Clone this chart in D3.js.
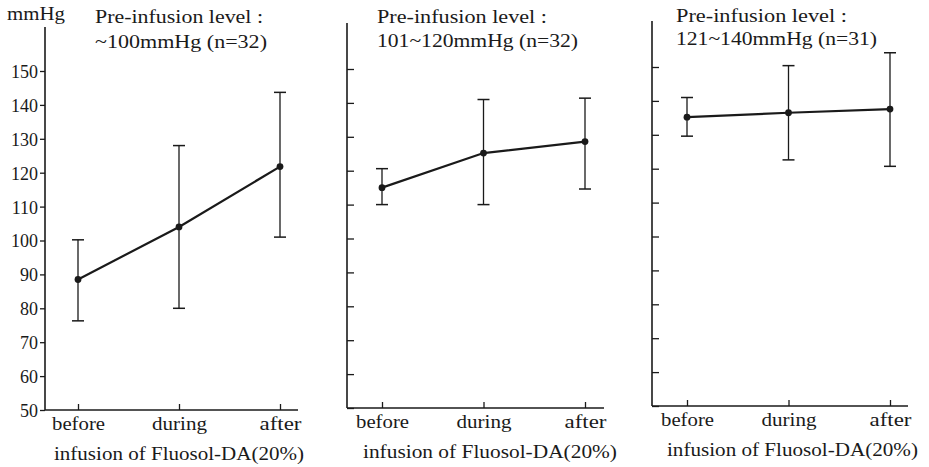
<!DOCTYPE html>
<html><head><meta charset="utf-8">
<script src="https://cdn.jsdelivr.net/npm/d3@7"></script>
<style>
html,body{margin:0;padding:0;background:#fff;}
</style></head>
<body><svg id="c" width="929" height="467"></svg>
<script>
const phases = ["before", "during", "after"];
const yTicks = [50, 60, 70, 80, 90, 100, 110, 120, 130, 140, 150];
const titleLine1 = ["Pre-infusion level :", "Pre-infusion level :", "Pre-infusion level :"];
const titleLine2 = ["~100mmHg (n=32)", "101~120mmHg (n=32)", "121~140mmHg (n=31)"];
const xTitle = "infusion of Fluosol-DA(20%)";
const yUnit = "mmHg";
// means and error bar ends (mmHg), per panel
const mean1 = [88.5, 104, 121.8], upper1 = [100.2, 128, 143.7], lower1 = [76.3, 80, 101];
const mean2 = [115, 125.2, 128.6], upper2 = [120.6, 141, 141.4], lower2 = [110, 110, 114.6];
const mean3 = [135.2, 136.5, 137.6], upper3 = [141, 150.4, 154.2], lower3 = [129.6, 122.6, 120.7];

const tickLabelWidth = {before: 53, during: 55, after: 42};
const FONT = "'Liberation Serif', 'Times New Roman', serif";
const panels = [
  {mean: mean1, upper: upper1, lower: lower1, ax: 45, axEnd: 298, y50: 410, y150: 71, top: 27, x0: 78, x1: 280,
   t1: [95, 23, 168], t2: [95, 48, 172], xt: [54, 460, 250], labels: true},
  {mean: mean2, upper: upper2, lower: lower2, ax: 347, axEnd: 604, y50: 408, y150: 69, top: 23, x0: 382, x1: 585,
   t1: [377, 23, 170], t2: [377, 47, 201], xt: [363, 458, 254], labels: false},
  {mean: mean3, upper: upper3, lower: lower3, ax: 652, axEnd: 908, y50: 406, y150: 67, top: 21, x0: 687, x1: 890,
   t1: [676, 22, 171], t2: [676, 45, 201], xt: [667, 456, 251], labels: false}
];
const ink = "#1a1a1a";
const svg = d3.select("#c");

svg.append("text").attr("x", 7).attr("y", 20).attr("font-size", 18)
  .attr("textLength", 58).attr("lengthAdjust", "spacingAndGlyphs").text(yUnit);

panels.forEach((p, i) => {
  const g = svg.append("g");
  const y = d3.scaleLinear().domain([50, 150]).range([p.y50, p.y150]);
  const x = d3.scalePoint().domain(phases).range([p.x0, p.x1]);

  // y axis
  const yAxis = (p.labels ? d3.axisLeft(y).tickSize(5).tickPadding(2) : d3.axisRight(y).tickSize(7).tickFormat(""))
    .tickValues(yTicks);
  const ya = g.append("g").attr("transform", `translate(${p.ax},0)`).call(yAxis);
  ya.select(".domain").remove();
  ya.selectAll("line").attr("stroke", ink).attr("stroke-width", 1.3);
  ya.selectAll("text").attr("font-size", 18).attr("dy", "0.36em");

  // x axis
  const xa = g.append("g").attr("transform", `translate(0,${p.y50})`)
    .call(d3.axisBottom(x).tickSizeInner(-6).tickSizeOuter(0).tickPadding(7));
  xa.select(".domain").remove();
  xa.selectAll("line").attr("stroke", ink).attr("stroke-width", 1.3);
  xa.selectAll("text").attr("font-size", 18)
    .attr("textLength", d => tickLabelWidth[d]).attr("lengthAdjust", "spacingAndGlyphs");

  // spines
  g.append("line").attr("x1", p.ax).attr("x2", p.ax).attr("y1", p.y50).attr("y2", p.top)
    .attr("stroke", ink).attr("stroke-width", 1.6);
  g.append("line").attr("x1", p.ax).attr("x2", p.axEnd).attr("y1", p.y50).attr("y2", p.y50)
    .attr("stroke", ink).attr("stroke-width", 1.6);

  // error bars
  phases.forEach((ph, k) => {
    const cx = x(ph);
    g.append("line").attr("x1", cx).attr("x2", cx).attr("y1", y(p.upper[k])).attr("y2", y(p.lower[k]))
      .attr("stroke", ink).attr("stroke-width", 1.3);
    [p.upper[k], p.lower[k]].forEach(v => {
      g.append("line").attr("x1", cx - 6).attr("x2", cx + 6).attr("y1", y(v)).attr("y2", y(v))
        .attr("stroke", ink).attr("stroke-width", 1.5);
    });
  });

  // mean line
  g.append("path").datum(p.mean)
    .attr("d", d3.line().x((d, k) => x(phases[k])).y(d => y(d)))
    .attr("fill", "none").attr("stroke", ink).attr("stroke-width", 2.2);
  g.selectAll("circle.m").data(p.mean).join("circle")
    .attr("cx", (d, k) => x(phases[k])).attr("cy", d => y(d)).attr("r", 3.4).attr("fill", ink);

  // titles
  g.append("text").attr("x", p.t1[0]).attr("y", p.t1[1]).attr("font-size", 18)
    .attr("textLength", p.t1[2]).attr("lengthAdjust", "spacingAndGlyphs").text(titleLine1[i]);
  g.append("text").attr("x", p.t2[0]).attr("y", p.t2[1]).attr("font-size", 18)
    .attr("textLength", p.t2[2]).attr("lengthAdjust", "spacingAndGlyphs").text(titleLine2[i]);
  g.append("text").attr("x", p.xt[0]).attr("y", p.xt[1]).attr("font-size", 18)
    .attr("textLength", p.xt[2]).attr("lengthAdjust", "spacingAndGlyphs").text(xTitle);
});

svg.selectAll("text").style("font-family", FONT).style("fill", ink);
</script></body></html>
